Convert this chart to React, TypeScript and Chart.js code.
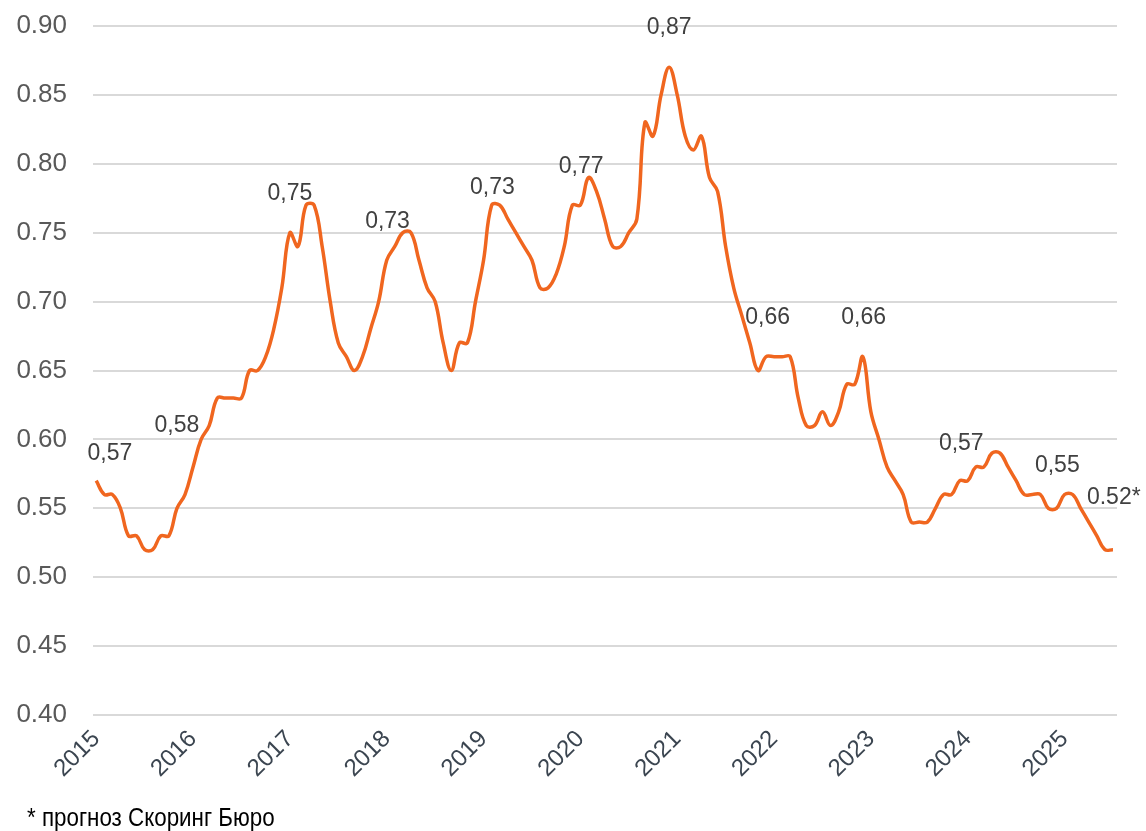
import React, { useEffect, useRef } from "react";
import { Chart, registerables } from "chart.js";

Chart.register(...registerables);

// Monthly values, Jan 2015 .. Jul 2025
const values: number[] = [
  0.57, 0.56, 0.56, 0.55, 0.53, 0.53, 0.52, 0.52, 0.53, 0.53, 0.55, 0.56,
  0.58, 0.60, 0.61, 0.63, 0.63, 0.63, 0.63, 0.65, 0.65, 0.66, 0.68, 0.71,
  0.75, 0.74, 0.77, 0.77, 0.74, 0.70, 0.67, 0.66, 0.65, 0.66, 0.68, 0.70,
  0.73, 0.74, 0.75, 0.75, 0.73, 0.71, 0.70, 0.67, 0.65, 0.67, 0.67, 0.70,
  0.73, 0.77, 0.77, 0.76, 0.75, 0.74, 0.73, 0.71, 0.71, 0.72, 0.74, 0.77,
  0.77, 0.79, 0.78, 0.76, 0.74, 0.74, 0.75, 0.76, 0.83, 0.82, 0.85, 0.87,
  0.85, 0.82, 0.81, 0.82, 0.79, 0.78, 0.74, 0.71, 0.69, 0.67, 0.65, 0.66,
  0.66, 0.66, 0.66, 0.63, 0.61, 0.61, 0.62, 0.61, 0.62, 0.64, 0.64, 0.66,
  0.62, 0.60, 0.58, 0.57, 0.56, 0.54, 0.54, 0.54, 0.55, 0.56, 0.56, 0.57,
  0.57, 0.58, 0.58, 0.59, 0.59, 0.58, 0.57, 0.56, 0.56, 0.56, 0.55, 0.55,
  0.56, 0.56, 0.55, 0.54, 0.53, 0.52, 0.52,
];

const yearLabels: string[] = [
  "2015", "2016", "2017", "2018", "2019", "2020",
  "2021", "2022", "2023", "2024", "2025",
];

const yTicks: number[] = [0.4, 0.45, 0.5, 0.55, 0.6, 0.65, 0.7, 0.75, 0.8, 0.85, 0.9];

// Annotated yearly values
const annoTexts: string[] = [
  "0,57", "0,58", "0,75", "0,73", "0,73", "0,77",
  "0,87", "0,66", "0,66", "0,57", "0,55", "0.52*",
];
const annoIndex: number[] = [1.7, 10, 24, 36.1, 49.1, 60.1, 71, 83.2, 95.1, 107.2, 119.1, 126.1];
const annoValue: number[] = [0.59, 0.61, 0.778, 0.758, 0.783, 0.798, 0.899, 0.688, 0.688, 0.597, 0.581, 0.558];

const footnote = "* прогноз Скоринг Бюро";

const LINE_COLOR = "#F0661F";

export default function App() {
  const canvasRef = useRef<HTMLCanvasElement | null>(null);

  useEffect(() => {
    const canvas = canvasRef.current;
    if (!canvas) return;

    const annoPlugin = {
      id: "annoLabels",
      afterDatasetsDraw(chart: any) {
        const { ctx } = chart;
        const xs = chart.scales.x;
        const ys = chart.scales.y;
        ctx.save();
        ctx.font = '23px "Liberation Sans", Arial, sans-serif';
        ctx.fillStyle = "#404040";
        ctx.textAlign = "center";
        ctx.textBaseline = "middle";
        annoTexts.forEach((t, i) => {
          ctx.fillText(t, xs.getPixelForValue(annoIndex[i]), ys.getPixelForValue(annoValue[i]));
        });
        ctx.restore();
      },
    };

    const chart = new Chart(canvas, {
      type: "line",
      data: {
        datasets: [
          {
            data: values.map((v, i) => ({ x: i, y: v })),
            borderColor: LINE_COLOR,
            borderWidth: 3.5,
            pointRadius: 0,
            tension: 0.4,
            fill: false,
            clip: false as any,
          },
        ],
      },
      options: {
        animation: false,
        responsive: false,
        maintainAspectRatio: false,
        layout: { padding: { top: 26, right: 29, left: 0, bottom: 0 } },
        plugins: {
          legend: { display: false },
          tooltip: { enabled: false },
        },
        scales: {
          x: {
            type: "linear",
            min: -0.4,
            max: 126.5,
            grid: { display: false },
            border: { display: false },
            afterBuildTicks: (scale: any) => {
              scale.ticks = yearLabels.map((_, i) => ({ value: i * 12 }));
            },
            afterFit: (scale: any) => {
              scale.height = 116;
              scale.paddingLeft = 0;
              scale.paddingRight = 0;
            },
            ticks: {
              autoSkip: false,
              minRotation: 45,
              maxRotation: 45,
              padding: 2,
              color: "#3B4550",
              font: { family: '"Liberation Sans", Arial, sans-serif', size: 24 },
              callback: (v: any) => yearLabels[Math.round(Number(v) / 12)] ?? "",
            },
          },
          y: {
            min: 0.4,
            max: 0.9,
            afterBuildTicks: (scale: any) => {
              scale.ticks = yTicks.map((v) => ({ value: v }));
            },
            afterFit: (scale: any) => {
              scale.width = 93;
              scale.paddingTop = 0;
              scale.paddingBottom = 0;
            },
            grid: { color: "#D9D9D9", lineWidth: 2, drawTicks: false },
            border: { display: false },
            ticks: {
              padding: 26,
              color: "#595959",
              font: { family: '"Liberation Sans", Arial, sans-serif', size: 26 },
              callback: (v: any) => Number(v).toFixed(2),
            },
          },
        },
      },
      plugins: [annoPlugin],
    });

    return () => chart.destroy();
  }, []);

  return (
    <div style={{ position: "absolute", left: 0, top: 0, width: 1146, height: 831, background: "#fff" }}>
      <canvas ref={canvasRef} width={1146} height={831} style={{ display: "block" }} />
      <div
        style={{
          position: "absolute",
          left: 27,
          top: 802,
          fontFamily: '"Liberation Sans", Arial, sans-serif',
          fontSize: 26,
          lineHeight: "30px",
          color: "#000",
          whiteSpace: "nowrap",
          transform: "scaleX(0.86)",
          transformOrigin: "left top",
        }}
      >
        {footnote}
      </div>
    </div>
  );
}
